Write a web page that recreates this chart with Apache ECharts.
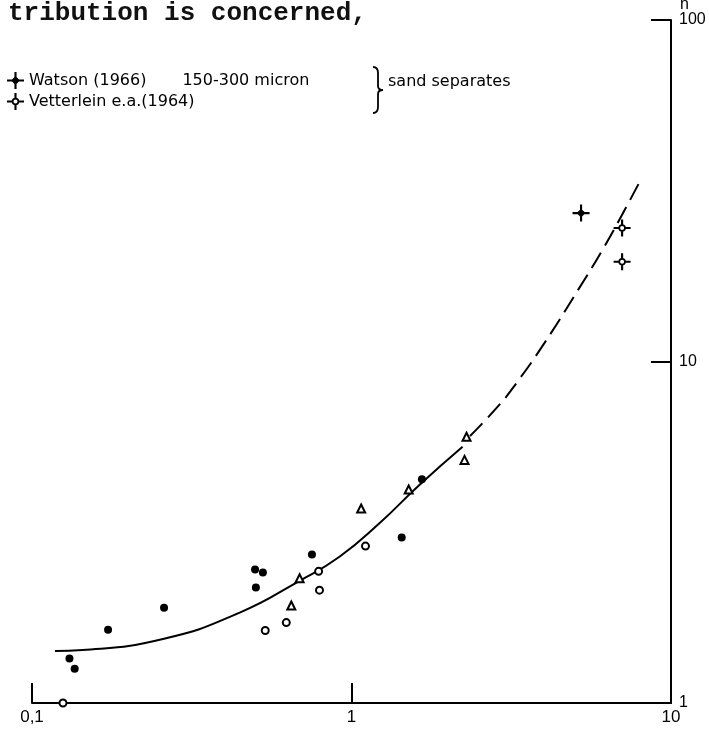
<!DOCTYPE html>
<html>
<head>
<meta charset="utf-8">
<script src="https://cdn.jsdelivr.net/npm/echarts@6/dist/echarts.min.js"></script>
<style>html,body{margin:0;padding:0;background:#fff;}#c{width:709px;height:744px;}</style>
</head>
<body>
<div id="c"></div>
<script>
// ---- data (x, n) ----
const filledCircles = [[0.131,1.35],[0.136,1.26],[0.173,1.64],[0.259,1.90],[0.499,2.46],[0.528,2.41],[0.502,2.18],[0.752,2.72],[1.436,3.05],[1.661,4.52]];
const openCircles = [[0.125,1.0],[0.537,1.63],[0.625,1.72],[0.789,2.43],[0.794,2.14],[1.106,2.88]];
const triangles = [[0.648,1.93],[0.688,2.32],[1.072,3.71],[1.51,4.22],[2.291,6.02],[2.258,5.15]];
const watson = [[5.23,27.2]];
const vetterlein = [[7.03,24.6],[7.03,19.6]];
const curveSolid = [[0.118,1.42],[0.144,1.43],[0.257,1.54],[0.447,1.84],[0.688,2.28],[0.917,2.68],[1.223,3.36],[1.631,4.35],[2.227,5.63]];
const curveDashed = [[2.35,6.05],[2.90,7.46],[3.29,8.67],[4.01,11.3],[5.16,16.4],[6.17,21.6],[7.03,26.9],[7.94,33.3]];
const xTickLabels = {'0.1':'0,1', '1':'1', '10':'10'};
const yTickLabels = {'1':'1', '10':'10', '100':'100'};

const crossFilled = 'path://M-1,-8 L1,-8 L1,-1 L8,-1 L8,1 L1,1 L1,8 L-1,8 L-1,1 L-8,1 L-8,-1 L-1,-1 Z M0,-4.2 L4.2,0 L0,4.2 L-4.2,0 Z';
const crossOpen = 'path://M-1,-8 L1,-8 L1,-3 L-1,-3 Z M3,-1 L8,-1 L8,1 L3,1 Z M1,8 L-1,8 L-1,3 L1,3 Z M-8,1 L-8,-1 L-3,-1 L-3,1 Z M3.5,0 A3.5,3.5 0 1,1 -3.5,0 A3.5,3.5 0 1,1 3.5,0 Z M1.9,0 A1.9,1.9 0 1,0 -1.9,0 A1.9,1.9 0 1,0 1.9,0 Z';

const ink = '#000';
const bx = 373, by = 67;
const braceStyle = {stroke: ink, fill: null, lineWidth: 1.8};
const chart = echarts.init(document.getElementById('c'));
chart.setOption({
  animation: false,
  backgroundColor: '#fff',
  title: {
    text: 'tribution is concerned,',
    left: 3, top: -5,
    textStyle: {fontFamily: 'Liberation Mono', fontSize: 26, fontWeight: 'bold', color: '#111'}
  },
  grid: {left: 32, right: 38, top: 20, bottom: 41, containLabel: false, outerBoundsMode: 'none'},
  legend: {
    data: ['Watson (1966)', 'Vetterlein e.a.(1964)'],
    orient: 'vertical', left: 7, top: 72, padding: 0,
    itemWidth: 17, itemHeight: 17, itemGap: 4,
    formatter: function (name) {
      return name === 'Watson (1966)' ? '{a|' + name + '}{b|150-300 micron}' : '{a|' + name + '}';
    },
    textStyle: {
      fontFamily: 'DejaVu Sans', fontSize: 16, color: ink,
      rich: {a: {fontFamily: 'DejaVu Sans', fontSize: 16, color: ink},
             b: {fontFamily: 'DejaVu Sans', fontSize: 16, color: ink, padding: [0, 0, 0, 36]}}
    }
  },
  xAxis: {
    type: 'log', min: 0.1, max: 10, logBase: 10,
    axisLine: {lineStyle: {color: ink, width: 2}},
    axisTick: {inside: true, length: 20, lineStyle: {color: ink, width: 2}},
    minorTick: {show: false},
    splitLine: {show: false},
    axisLabel: {color: ink, fontFamily: 'Liberation Sans', fontSize: 17, margin: 6,
      formatter: function (v) { const k = String(+(+v).toPrecision(3)); return xTickLabels[k] || ''; }}
  },
  yAxis: {
    type: 'log', min: 1, max: 100, logBase: 10, position: 'right',
    name: 'n', nameLocation: 'end', nameGap: 5,
    nameTextStyle: {color: ink, fontFamily: 'Liberation Sans', fontSize: 16, align: 'left', verticalAlign: 'bottom', padding: [0, 0, 0, 9]},
    axisLine: {onZero: false, lineStyle: {color: ink, width: 2}},
    axisTick: {inside: true, length: 20, lineStyle: {color: ink, width: 2}},
    splitLine: {show: false},
    axisLabel: {color: ink, fontFamily: 'Liberation Sans', fontSize: 16, margin: 8,
      formatter: function (v) { const k = String(+(+v).toPrecision(3)); return yTickLabels[k] || ''; }}
  },
  graphic: [
    {type: 'bezierCurve', shape: {x1: bx, y1: by, cpx1: bx+5, cpy1: by, x2: bx+5, y2: by+6}, style: braceStyle},
    {type: 'line', shape: {x1: bx+5, y1: by+6, x2: bx+5, y2: by+19}, style: braceStyle},
    {type: 'bezierCurve', shape: {x1: bx+5, y1: by+19, cpx1: bx+5, cpy1: by+23, x2: bx+10, y2: by+23}, style: braceStyle},
    {type: 'bezierCurve', shape: {x1: bx+10, y1: by+23, cpx1: bx+5, cpy1: by+23, x2: bx+5, y2: by+27}, style: braceStyle},
    {type: 'line', shape: {x1: bx+5, y1: by+27, x2: bx+5, y2: by+40}, style: braceStyle},
    {type: 'bezierCurve', shape: {x1: bx+5, y1: by+40, cpx1: bx+5, cpy1: by+46, x2: bx, y2: by+46}, style: braceStyle},
    {type: 'text', left: 388, top: 74,
     style: {text: 'sand separates', fill: ink, font: '16px "DejaVu Sans"'}}
  ],
  series: [
    {name: 'curve', type: 'line', data: curveSolid, smooth: true, showSymbol: false,
     lineStyle: {color: ink, width: 2}, z: 1},
    {name: 'curve-extrapolated', type: 'line', data: curveDashed, smooth: true, showSymbol: false,
     lineStyle: {color: ink, width: 2, type: [18, 8]}, z: 1},
    {name: 'filled', type: 'scatter', data: filledCircles, symbol: 'circle', symbolSize: 8,
     itemStyle: {color: ink, opacity: 1}, z: 3},
    {name: 'open', type: 'scatter', data: openCircles, symbol: 'circle', symbolSize: 7,
     itemStyle: {color: '#fff', borderColor: ink, borderWidth: 2, opacity: 1}, z: 3},
    {name: 'triangles', type: 'scatter', data: triangles, symbol: 'triangle', symbolSize: 8,
     itemStyle: {color: '#fff', borderColor: ink, borderWidth: 2, opacity: 1}, z: 3},
    {name: 'Watson (1966)', type: 'scatter', data: watson, symbol: crossFilled, symbolSize: 17,
     itemStyle: {color: ink, opacity: 1}, z: 3},
    {name: 'Vetterlein e.a.(1964)', type: 'scatter', data: vetterlein, symbol: crossOpen, symbolSize: 17,
     itemStyle: {color: ink, opacity: 1}, z: 3}
  ]
});
</script>
</body>
</html>
